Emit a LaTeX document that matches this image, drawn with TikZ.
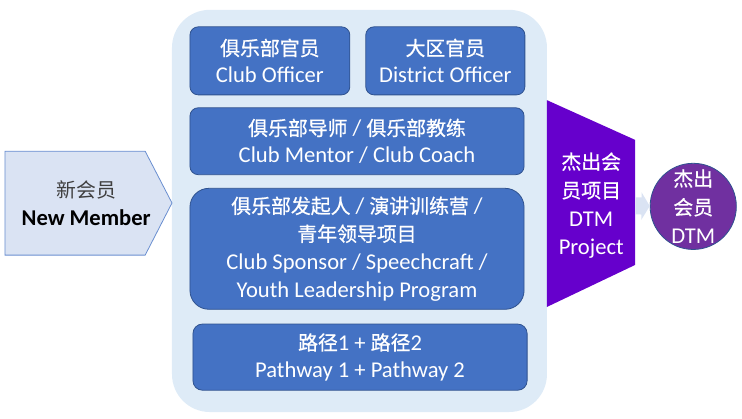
\documentclass[tikz,border=0pt]{standalone}
\usepackage{fontspec}
\setmainfont{Carlito}
\newfontfamily\cjk{Noto Sans CJK SC}[Scale=0.88,FakeBold=0.8]
\newfontfamily\cjklight{Noto Sans CJK SC}[Scale=0.88]
\usetikzlibrary{arrows.meta}
\usetikzlibrary {positioning}
\definecolor{panel}{HTML}{DEEBF7}
\definecolor{memfill}{HTML}{DAE3F3}
\definecolor{boxblue}{HTML}{4472C4}
\definecolor{boxline}{HTML}{2F528F}
\definecolor{projpurple}{HTML}{6600CC}
\definecolor{dtmpurple}{HTML}{7030A0}
\tikzset{blue node/.style={rectangle,rounded corners=0.22cm,fill=boxblue,draw=boxline,line width=0.6pt,text=white,align=center,inner sep=0pt,font=\fontsize{17}{20.5}\selectfont}}
\tikzset{text node/.style={align=center,inner sep=0pt,font=\fontsize{17}{21.5}\selectfont}}
\tikzset{big arrow/.style={color=memfill,line width=0.45cm,-{Triangle[width=0.72cm,length=0.22cm]}}}

\begin{document}
\begin{tikzpicture}
    	\useasboundingbox (0,0) rectangle (19.63,-11.06);
    	\fill[panel,rounded corners=1cm] (4.55,-0.26) rectangle (14.47,-10.90);
    	\filldraw[fill=memfill,draw=boxblue!80,line width=0.6pt] (0.13,-4.00) -- (3.84,-4.00) -- (4.55,-5.37) -- (3.84,-6.75) -- (0.13,-6.75) -- cycle;
    	\fill[projpurple] (14.47,-2.65) -- (16.80,-3.70) -- (16.80,-7.01) -- (14.47,-8.12) -- cycle;
    
    	\node[text node] (n_{1}) at (2.28,-5.38) {\textcolor{black!75}{\cjklight 新会员}\\\textbf{New Member}};
    	\node[blue node,minimum width=4.23cm,minimum height=1.80cm] (b_{1}) at (7.14,-1.61) {{\cjk 俱乐部官员}\\Club Officer};
    	\node[blue node,minimum width=4.21cm,minimum height=1.80cm] (b_{2}) [right = 0.40cm of b_{1}] {{\cjk 大区官员}\\District Officer};
    	\node[blue node,minimum width=8.84cm,minimum height=1.77cm] (b_{3}) [below = 0.32cm of b_{1}.south west,anchor=north west] {{\cjk 俱乐部导师} / {\cjk 俱乐部教练}\\Club Mentor / Club Coach};
    	\node[blue node,minimum width=8.84cm,minimum height=3.20cm,rounded corners=0.5cm,font=\fontsize{17}{21}\selectfont] (b_{4}) [below = 0.34cm of b_{3}] {{\cjk 俱乐部发起人} / {\cjk 演讲训练营} /\\{\cjk 青年领导项目}\\Club Sponsor / Speechcraft /\\Youth Leadership Program};
    	\node[blue node,minimum width=8.84cm,minimum height=1.75cm,rounded corners=0.25cm] (b_{5}) [below = 0.37cm of b_{4},xshift=0.08cm] {{\cjk 路径}1 + {\cjk 路径}2\\Pathway 1 + Pathway 2};
    	\node[text node,text=white,minimum width=2.33cm] (p_{1}) at (15.64,-5.44) {{\cjk 杰出会}\\{\cjk 员项目}\\DTM\\Project};
    	\node[circle,fill=dtmpurple,draw=boxline,line width=0.6pt,minimum size=2.28cm,text node,text=white] (d_{1}) at (18.34,-5.46) {{\cjk 杰出}\\{\cjk 会员}\\DTM};
    
    	\draw[big arrow] (p_{1}) -- (d_{1});
\end{tikzpicture}
\end{document}
